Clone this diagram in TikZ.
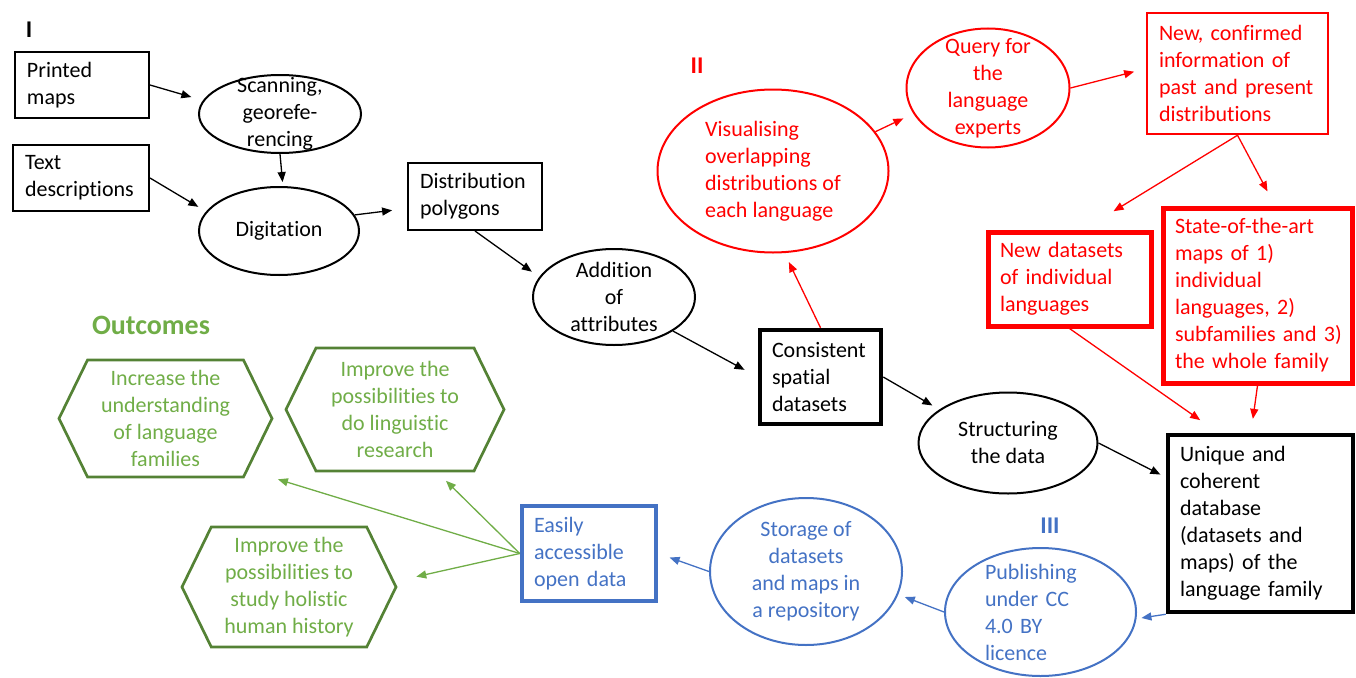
\documentclass[tikz,border=0pt]{standalone}
\usepackage{fontspec}
\setmainfont{Carlito}[Ligatures=NoCommon]
\usetikzlibrary{positioning,shapes,shapes.symbols,arrows.meta}

\definecolor{stepred}{HTML}{FF0000}
\definecolor{stepblue}{HTML}{4472C4}
\definecolor{outgreen}{HTML}{70AD47}
\definecolor{hexgreen}{HTML}{548235}

\tikzset{
  box/.style={draw, rectangle, line width=2pt, align=left, inner xsep=12pt, inner ysep=0pt},
  oval/.style={draw, ellipse, line width=2pt, align=center, inner xsep=0pt, inner ysep=-30pt},
  hexa/.style={draw=hexgreen, signal, signal to=west and east, signal pointer angle=128,
    line width=2.7pt, text=outgreen, align=center, inner sep=0pt},
  arr/.style={-{Triangle[length=10pt,width=8pt]}, line width=1.3pt},
  numlabel/.style={font=\fontsize{24}{28}\selectfont\bfseries},
}

\begin{document}
\begin{tikzpicture}[x=1pt, y=-1pt, font=\fontsize{22}{27}\selectfont]
\useasboundingbox (0,0) rectangle (1356,677);

% part I
\node[numlabel] (one) at (29,30) {I};
\node[box, text width=110pt, minimum height=66pt] (print) at (82,85) {Printed\\maps};
\node[box, text width=112pt, minimum height=66pt] (textdesc) at (81,178) {Text\\descriptions};
\node[oval, minimum width=162pt, minimum height=78pt] (scan) at (280,114) {Scanning,\\georefe-\\rencing};
\node[oval, minimum width=160pt, minimum height=88pt] (digit) at (279,231) {Digitation};
\node[box, text width=110pt, minimum height=67pt] (distpoly) at (475,196.5) {Distribution\\polygons};
\node[oval, minimum width=162pt, minimum height=96pt] (addit) at (614,297) {Addition\\of\\attributes};
\node[box, line width=4.5pt, text width=97pt, minimum height=94pt] (consist) at (820.5,377) {Consistent\\spatial\\datasets};
\node[oval, minimum width=179pt, minimum height=101pt] (struct) at (1008,443) {Structuring\\the data};
\node[box, line width=4.5pt, text width=161pt, minimum height=177pt] (unique) at (1260.5,523.5) {Unique and\\coherent\\database\\(datasets and\\maps) of the\\language family};

% part II
\node[numlabel, text=stepred] (two) at (697,66) {II};
\node[oval, color=stepred, align=left, minimum width=231pt, minimum height=163pt] (visual) at (773,171) {Visualising\\overlapping\\distributions of\\each language};
\node[oval, color=stepred, minimum width=163pt, minimum height=119pt] (query) at (988,88) {Query for\\the\\language\\experts};
\node[box, color=stepred, line width=2.5pt, text width=157pt, minimum height=121pt] (newconf) at (1237.5,73.5) {New, confirmed\\information of\\past and present\\distributions};
\node[box, color=stepred, line width=5pt, text width=139pt, minimum height=94pt] (newdata) at (1069.5,279) {New datasets\\of individual\\languages};
\node[box, color=stepred, line width=5pt, text width=165pt, minimum height=175pt] (state) at (1257.5,295.5) {State-of-the-art\\maps of 1)\\individual\\languages, 2)\\subfamilies~and~3)\\the whole family};

% part III
\node[numlabel, text=stepblue] (three) at (1050,526) {III};
\node[oval, color=stepblue, align=left, text width=111pt, minimum width=191pt, minimum height=128pt] (publish) at (1040.5,612) {Publishing\\under CC\\4.0 BY\\licence};
\node[oval, color=stepblue, minimum width=192pt, minimum height=147pt] (storage) at (806,571.5) {Storage of\\datasets\\and maps in\\a repository};
\node[box, color=stepblue, line width=4.5pt, text width=110pt, minimum height=95pt] (easily) at (589,553.5) {Easily\\accessible\\open data};

% outcomes
\node[font=\fontsize{28}{32}\selectfont\bfseries, text=outgreen] (outc) at (151,325) {Outcomes};
\node[hexa, minimum width=213pt, minimum height=117pt] (hexunder) at (165.5,418.5) {Increase the\\understanding\\of language\\families};
\node[hexa, minimum width=218pt, minimum height=123pt] (hexling) at (395,409.5) {Improve the\\possibilities to\\do linguistic\\research};
\node[hexa, minimum width=214pt, minimum height=120pt] (hexhist) at (289,587) {Improve the\\possibilities to\\study holistic\\human history};

\draw[arr, shorten >=12pt] (print.east) -- (scan.170);
\draw[arr, shorten >=9pt] (textdesc.east) -- (digit.165);
\draw[arr, shorten >=4pt] (scan.south) -- (digit.85);
\draw[arr, shorten >=15pt] (digit.12) -- (distpoly.190);
\draw[arr, shorten >=9pt] (distpoly.south) -- (addit.165);
\draw[arr, shorten >=15pt] (addit.330) -- (consist.west);
\draw[arr, shorten >=8pt] (consist.east) -- (struct.154);
\draw[arr, shorten >=6pt] (struct.east) -- (unique.154);

\draw[arr, stepred, shorten >=10pt] (consist.north) -- (visual.278);
\draw[arr, stepred, shorten >=11pt] (visual.21) -- (query.199);
\draw[arr, stepred, shorten >=12pt] (query.east) -- (newconf.177);
\draw[arr, stepred, shorten >=35pt] (newconf.south) -- (newdata.74);
\draw[arr, stepred, shorten >=16pt] (newconf.south) -- (state.79);
\draw[arr, stepred, shorten >=22pt] (newdata.south) -- (unique.115);
\draw[arr, stepred, shorten >=14pt] (state.south) -- (unique.96);

\draw[arr, stepblue, shorten >=5pt] (unique.south west) -- (publish.356);
\draw[arr, stepblue, shorten >=7pt] (publish.west) -- (storage.346);
\draw[arr, stepblue, shorten >=12pt] (storage.west) -- (easily.east);

\draw[arr, outgreen, shorten >=31pt] (easily.west) -- (hexunder.328);
\draw[arr, outgreen, shorten >=12pt] (easily.west) -- (hexling.304);
\draw[arr, outgreen, shorten >=22pt] (easily.west) -- (hexhist.3);
\end{tikzpicture}
\end{document}
